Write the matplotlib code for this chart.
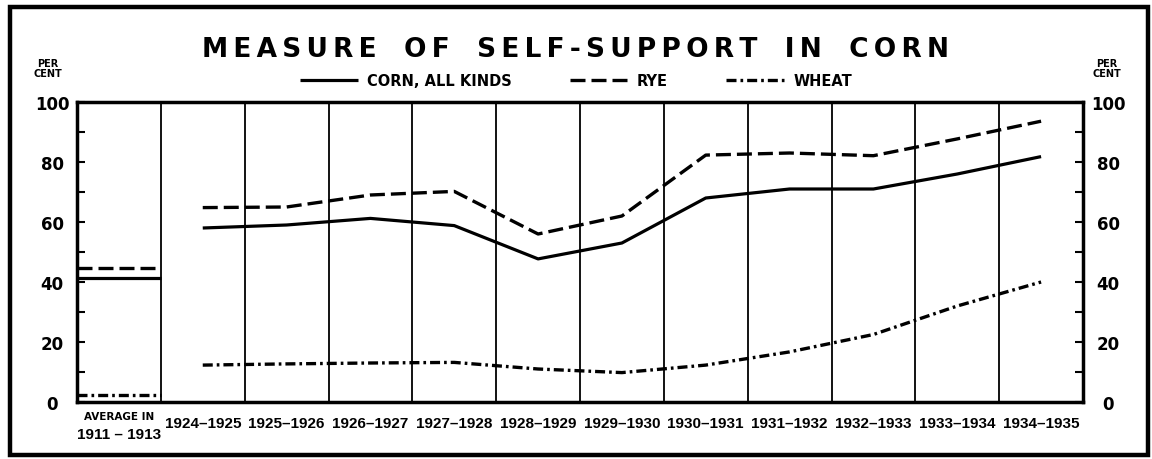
#!/usr/bin/env python
import matplotlib.pyplot as plt
import numpy as np
from matplotlib.patches import Rectangle

# harvest years shown as columns after the pre-war average
PERIODS = ['1924–1925', '1925–1926', '1926–1927', '1927–1928', '1928–1929',
           '1929–1930', '1930–1931', '1931–1932', '1932–1933', '1933–1934',
           '1934–1935']
CORN = [58.0, 59.0, 61.2, 58.8, 47.7, 53.0, 68.0, 71.0, 71.0, 76.0, 81.8]
RYE = [64.8, 65.0, 69.0, 70.2, 56.0, 62.0, 82.3, 83.0, 82.1, 87.7, 93.6]
WHEAT = [12.3, 12.7, 13.0, 13.2, 11.0, 9.8, 12.3, 16.7, 22.5, 32.0, 40.0]

# average in 1911-1913
AVG_CORN, AVG_RYE, AVG_WHEAT = 41.3, 44.8, 2.2

Y_TICKS = [0, 20, 40, 60, 80, 100]

STYLE = {
    'corn': dict(color='black', lw=2.3, ls='-', solid_capstyle='butt'),
    'rye': dict(color='black', lw=2.4, ls=(0, (4.5, 1.8))),
    'wheat': dict(color='black', lw=2.4, ls=(0, (3.0, 1.2, 0.8, 1.2))),
}
NARROW = ['Liberation Sans', 'DejaVu Sans']

plt.rcParams['font.family'] = ['DejaVu Sans']

fig = plt.figure(figsize=(11.52, 4.6), dpi=100)
ax = fig.add_axes([77/1152, 57/460, 1006/1152, 300/460])

ncol = len(PERIODS) + 1
centers = np.arange(1, ncol) + 0.5

ax.plot(centers, CORN, label='CORN, ALL KINDS', **STYLE['corn'])
ax.plot(centers, RYE, label='RYE', **STYLE['rye'])
ax.plot(centers, WHEAT, label='WHEAT', **STYLE['wheat'])

# pre-war averages span the whole first column
ax.hlines(AVG_RYE, 0, 1, **STYLE['rye'])
ax.hlines(AVG_CORN, 0, 1, color='black', lw=2.3)
ax.hlines(AVG_WHEAT, 0, 1, **STYLE['wheat'])

ax.set_xlim(0, ncol)
ax.set_ylim(0, 100)

# column dividers
ax.set_xticks(np.arange(1, ncol), minor=True)
ax.grid(which='minor', axis='x', color='black', lw=1.3)
ax.set_xticks(centers)
ax.set_xticklabels(PERIODS, fontsize=11, fontweight='bold', family=NARROW)
ax.tick_params(axis='x', which='both', length=0, pad=10)

ax.set_yticks(Y_TICKS)
ax.set_yticklabels([str(v) for v in Y_TICKS], fontsize=12, fontweight='bold')
ax.set_yticks(np.arange(10, 100, 20), minor=True)
ax.tick_params(axis='y', which='both', direction='in', length=6, width=1.5,
               left=True, right=True, labelleft=True, labelright=True, pad=18)
for t in ax.yaxis.get_major_ticks():
    t.label1.set_horizontalalignment('center')
    t.label2.set_horizontalalignment('center')

for s in ax.spines.values():
    s.set_linewidth(2.5)

# first column label
ax.text(0.5, -0.03, 'AVERAGE IN', transform=ax.get_xaxis_transform(),
        ha='center', va='top', fontsize=7.5, fontweight='bold')
ax.text(0.5, -0.082, '1911 – 1913', transform=ax.get_xaxis_transform(),
        ha='center', va='top', fontsize=11, fontweight='bold', family=NARROW)

# per cent captions over both axes
for xpos in (48/1152, 1107/1152):
    fig.text(xpos, 1 - 69/460, 'PER\nCENT', ha='center', va='center',
             fontsize=7, fontweight='bold', linespacing=0.9)

title = 'MEASURE OF SELF-SUPPORT IN CORN'
spaced = '   '.join('\u2009'.join(w) for w in title.split())
fig.text(0.5, 1 - 50/460, spaced, ha='center', va='center',
         fontsize=19, fontweight='bold')

fig.legend(loc='center', bbox_to_anchor=(0.5, 1 - 82/460), ncol=3,
           frameon=False, handlelength=4, handletextpad=0.6,
           columnspacing=4, prop=dict(size=10.5, weight='bold'))

fig.add_artist(Rectangle((10/1152, 4/460), 1138/1152, 448/460,
                         transform=fig.transFigure, fill=False,
                         lw=3.2, ec='black'))

fig.savefig('out.png', dpi=100)
